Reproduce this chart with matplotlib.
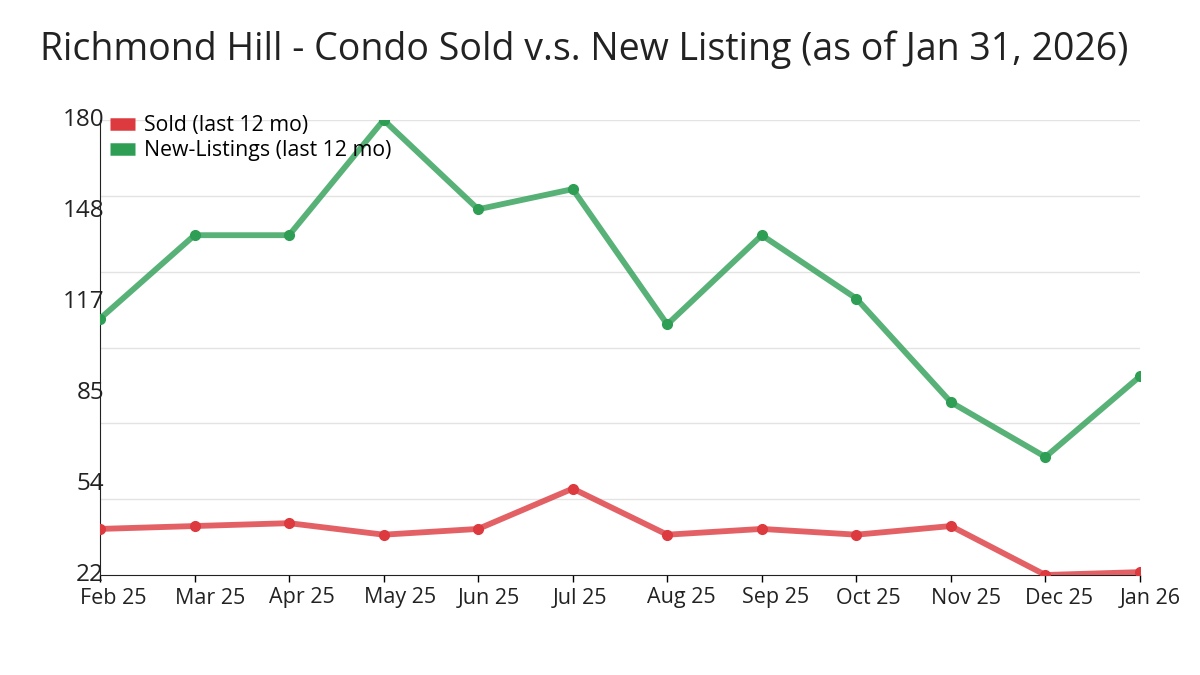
import numpy as np
import matplotlib.pyplot as plt
import matplotlib.transforms as mtransforms

# ==========================================================
# Data
# ==========================================================

months = ["Feb 25", "Mar 25", "Apr 25", "May 25", "Jun 25", "Jul 25",
          "Aug 25", "Sep 25", "Oct 25", "Nov 25", "Dec 25", "Jan 26"]

sold = [38, 39, 40, 36, 38, 52, 36, 38, 36, 39, 22, 23]

new_listings = [111, 140, 140, 180, 149, 156, 109, 140, 118, 82, 63, 91]

y_min = 22
y_max = 180

red = "#dc3a3f"
green = "#2e9e55"

plt.rcParams["font.family"] = ["Open Sans", "DejaVu Sans"]

# ==========================================================
# Plot
# ==========================================================

fig = plt.figure(figsize=(12, 6.75), dpi=100)
ax = fig.add_axes([100 / 1200, 1 - 575 / 675, 1040 / 1200, 455 / 675])

x = np.arange(len(months))

ax.plot(x, sold, color=red, lw=4.2, alpha=0.8, solid_capstyle="round",
        label="Sold (last 12 mo)", zorder=3)
ax.plot(x, sold, "o", color=red, ms=7, zorder=4)

ax.plot(x, new_listings, color=green, lw=4.2, alpha=0.8, solid_capstyle="round",
        label="New-Listings (last 12 mo)", zorder=3)
ax.plot(x, new_listings, "o", color=green, ms=7, zorder=4)

ax.set_xlim(0, len(months) - 1)
ax.set_ylim(y_min, y_max)

# gridlines and labels use different spacings
for g in np.linspace(y_min, y_max, 7)[1:]:
    ax.axhline(g, color="#e3e3e3", lw=1, zorder=1)

yt = np.linspace(y_min, y_max, 6)
ax.set_yticks(yt)
ax.set_yticklabels([f"{v:.0f}" for v in yt], fontsize=17.5, color="#222222")
ax.tick_params(axis="y", length=0, pad=-3)
y_shift = mtransforms.ScaledTranslation(0, 3 / 100, fig.dpi_scale_trans)
for lbl in ax.get_yticklabels():
    lbl.set_va("center_baseline")
    lbl.set_transform(lbl.get_transform() + y_shift)

ax.set_xticks(x)
ax.set_xticklabels(months, fontsize=15.5, color="#222222")
ax.tick_params(axis="x", length=5, width=1, pad=4)
# labels start a little left of their tick
x_shift = mtransforms.ScaledTranslation(-20 / 100, 0, fig.dpi_scale_trans)
for lbl in ax.get_xticklabels():
    lbl.set_ha("left")
    lbl.set_transform(lbl.get_transform() + x_shift)

for s in ["top", "right"]:
    ax.spines[s].set_visible(False)
ax.spines["left"].set_color("#222222")
ax.spines["bottom"].set_color("#222222")

leg = ax.legend(loc="upper left", bbox_to_anchor=(0.0096, 1.011), frameon=False,
                fontsize=15.3, handlelength=1.2, handletextpad=0.4,
                labelspacing=0.2, borderaxespad=0, borderpad=0)
for h in leg.get_lines():
    h.set_linewidth(9)
    h.set_solid_capstyle("butt")
    h.set_alpha(1)

fig.text(40 / 1200, 1 - 50 / 675, "Richmond Hill - Condo Sold v.s. New Listing (as of Jan 31, 2026)",
         fontsize=27, color="#222222", va="center", ha="left")

fig.savefig("out.png", dpi=100, facecolor="white")
